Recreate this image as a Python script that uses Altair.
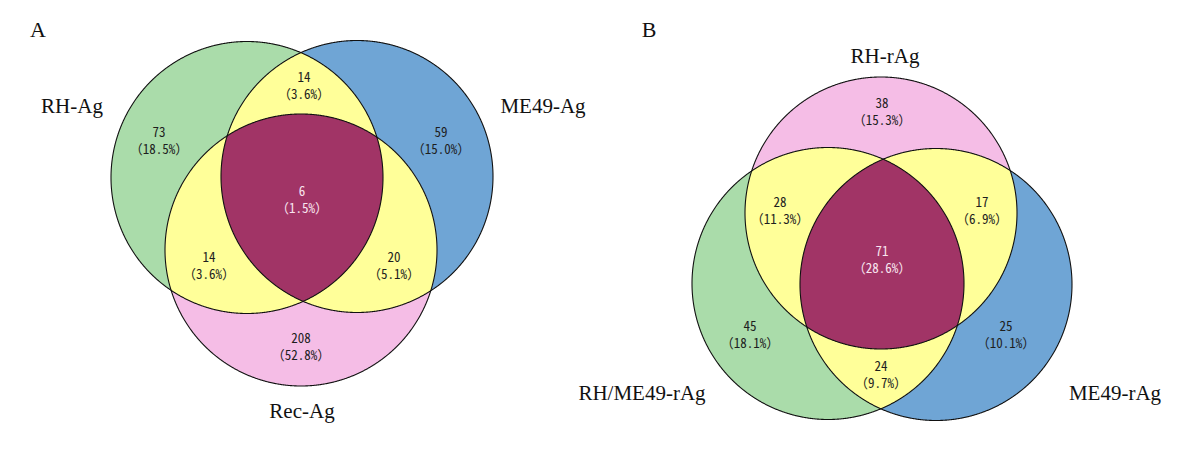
import numpy as np
import altair as alt

# ---------------- data ----------------
# Panel A : sets and region counts
a_sets = ["RH-Ag", "ME49-Ag", "Rec-Ag"]
# regions: RH only, ME49 only, Rec only, RH&ME49, RH&Rec, ME49&Rec, all three
a_counts = [73, 59, 208, 14, 14, 20, 6]
a_pcts = ["18.5%", "15.0%", "52.8%", "3.6%", "3.6%", "5.1%", "1.5%"]

# Panel B : sets and region counts
b_sets = ["RH-rAg", "RH/ME49-rAg", "ME49-rAg"]
# regions: RH only, RH/ME49 only, ME49 only, RH&RH/ME49, RH&ME49, RH/ME49&ME49, all three
b_counts = [38, 45, 25, 28, 17, 24, 71]
b_pcts = ["15.3%", "18.1%", "10.1%", "11.3%", "6.9%", "9.7%", "28.6%"]

panel_letters = ["A", "B"]

# ---------------- layout (pixel space) ----------------
R = 136
a_centers = [(247, 177.5), (357, 176.5), (301, 250)]
a_colors = ["#aadcaa", "#6fa5d5", "#f5bde6"]
a_set_pos = [(72, 107), (543, 107), (302, 412)]
a_reg_pos = [(159, 133), (441, 133), (301, 339), (304, 78), (209, 258), (394, 258), (302, 192)]

b_centers = [(881, 213), (828, 283.5), (936, 284.5)]
b_colors = ["#f5bde6", "#aadcaa", "#6fa5d5"]
b_set_pos = [(885, 57), (642, 394), (1115, 394)]
b_reg_pos = [(882, 104), (750, 327), (1006, 327), (780, 203), (982, 203), (881, 367), (882, 252)]

letter_pos = [(38, 30), (649, 30)]

YELLOW = "#ffff99"
TRIPLE = "#a13466"
LINE_GAP = 17.4
NUM_FONT = "Noto Sans Mono CJK JP, Noto Sans CJK JP, sans-serif"


def circle_pts(c, r, n=1441):
    t = np.linspace(0, 2 * np.pi, n)
    return np.column_stack([c[0] + r * np.cos(t), c[1] + r * np.sin(t)])


def intersection(circles, r):
    pts = []
    for i, c in enumerate(circles):
        p = circle_pts(c, r)
        mask = np.ones(len(p), bool)
        for j, d in enumerate(circles):
            if j != i:
                mask &= np.hypot(p[:, 0] - d[0], p[:, 1] - d[1]) <= r + 1e-9
        pts.append(p[mask])
    pts = np.vstack(pts)
    ctr = pts.mean(axis=0)
    ang = np.arctan2(pts[:, 1] - ctr[1], pts[:, 0] - ctr[0])
    return pts[np.argsort(ang)]


def feature(pts, fill, order):
    ring = [[float(x), float(y)] for x, y in pts]
    ring.append(ring[0])
    return {"type": "Feature",
            "geometry": {"type": "Polygon", "coordinates": [ring]},
            "properties": {"fill": fill, "order": order}}


fills = []
outlines = []
texts = []
set_labels = []
order = 0
for centers, colors, counts, pcts, sets, set_pos, reg_pos in [
    (a_centers, a_colors, a_counts, a_pcts, a_sets, a_set_pos, a_reg_pos),
    (b_centers, b_colors, b_counts, b_pcts, b_sets, b_set_pos, b_reg_pos),
]:
    for c, col in zip(centers, colors):
        fills.append(feature(circle_pts(c, R), col, order)); order += 1
    for i, j in [(0, 1), (0, 2), (1, 2)]:
        fills.append(feature(intersection([centers[i], centers[j]], R), YELLOW, order)); order += 1
    fills.append(feature(intersection(centers, R), TRIPLE, order)); order += 1
    for c in centers:
        outlines.append(feature(circle_pts(c, R), "none", 0))
    for k, (cnt, pc) in enumerate(zip(counts, pcts)):
        x, y = reg_pos[k]
        tc = "#f8e4ef" if k == 6 else "#1e1e1e"
        texts.append({"x": x, "y": y, "t": str(cnt), "c": tc})
        texts.append({"x": x, "y": y + LINE_GAP, "t": "（" + pc + "）", "c": tc})
    for s, (x, y) in zip(sets, set_pos):
        set_labels.append({"x": x, "y": y, "t": s})

letters = [{"x": x, "y": y, "t": t} for t, (x, y) in zip(panel_letters, letter_pos)]

P = dict(type="identity", scale=1, translate=[-8, -8])

fill_layer = alt.Chart(alt.Data(values=fills)).mark_geoshape(strokeWidth=0).encode(
    fill=alt.Fill("properties.fill:N", scale=None),
    order=alt.Order("properties.order:Q"),
).project(**P)

outline_layer = alt.Chart(alt.Data(values=outlines)).mark_geoshape(
    filled=False, stroke="#111111", strokeWidth=1.1
).project(**P)

num_layer = alt.Chart(alt.Data(values=texts)).mark_text(
    font=NUM_FONT, fontSize=13, baseline="middle", align="center"
).encode(
    longitude="x:Q", latitude="y:Q", text="t:N",
    color=alt.Color("c:N", scale=None),
).project(**P)

set_layer = alt.Chart(alt.Data(values=set_labels)).mark_text(
    font="Liberation Serif", fontSize=21, baseline="middle", align="center", color="#111111"
).encode(
    longitude="x:Q", latitude="y:Q", text="t:N"
).project(**P)

letter_layer = alt.Chart(alt.Data(values=letters)).mark_text(
    font="Liberation Serif", fontSize=22, baseline="middle", align="center", color="#111111"
).encode(
    longitude="x:Q", latitude="y:Q", text="t:N"
).project(**P)

chart = alt.layer(fill_layer, outline_layer, num_layer, set_layer, letter_layer).properties(
    width=1184, height=453, padding=0, autosize=alt.AutoSizeParams(type="none")
).configure_view(stroke=None).configure(background="white")

chart.save("out.html", embed_options={"renderer": "svg", "actions": False})
